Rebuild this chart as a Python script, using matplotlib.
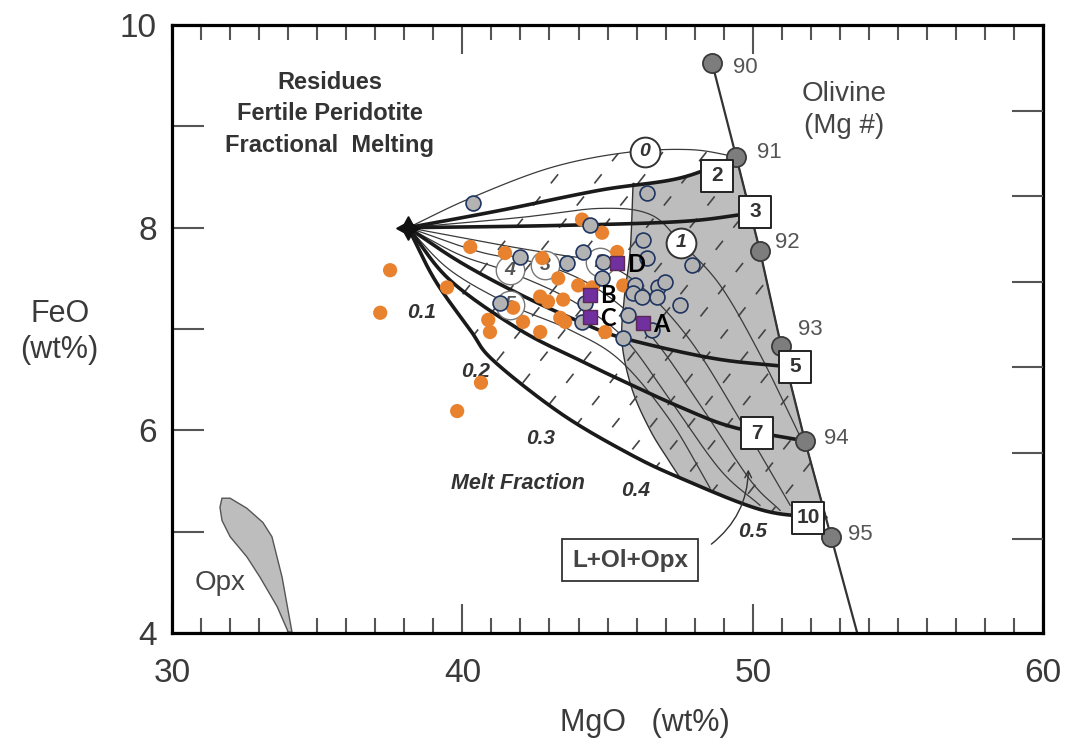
import numpy as np
import matplotlib
matplotlib.use('Agg')
import matplotlib.pyplot as plt
from matplotlib.patches import Polygon
from matplotlib.ticker import MultipleLocator, FuncFormatter

plt.rcParams['font.family'] = ['Liberation Sans', 'DejaVu Sans']

# ---------------- data (MgO, FeO in wt%) ----------------
origin_mgo, origin_feo = 38.13, 8.00

ol_mgo = [48.60, 49.43, 50.25, 50.98, 51.80, 52.70]
ol_feo = [9.625, 8.70, 7.77, 6.83, 5.895, 4.947]
ol_labels = ['90', '91', '92', '93', '94', '95']

# final melting pressure curves (thick, boxed labels)
pf2_mgo = [38.13, 41.30, 44.74, 47.50, 49.43]
pf2_feo = [8.00, 8.17, 8.37, 8.49, 8.70]
pf3_mgo = [38.13, 43.02, 47.50, 49.91]
pf3_feo = [8.00, 8.02, 8.06, 8.14]
pf5_mgo = [38.13, 39.92, 41.99, 44.05, 45.54, 48.64, 51.15]
pf5_feo = [8.00, 7.66, 7.34, 7.07, 6.91, 6.71, 6.63]
pf7_mgo = [38.13, 39.58, 41.99, 44.05, 45.43, 47.50, 49.33, 51.80]
pf7_feo = [8.00, 7.48, 6.99, 6.69, 6.50, 6.23, 6.03, 5.895]
pf10_mgo = [38.13, 39.06, 40.27, 41.06, 43.37, 45.67, 47.50, 50.36, 52.52]
pf10_feo = [8.00, 7.48, 6.99, 6.69, 6.17, 5.78, 5.53, 5.21, 5.14]

# initial melting pressure curves (thin, circled labels)
pi0_mgo = [38.13, 40.27, 43.02, 45.60, 47.84, 49.43]
pi0_feo = [8.00, 8.29, 8.59, 8.74, 8.77, 8.70]
pi1_mgo = [38.13, 41.99, 44.74, 46.47, 47.53, 48.88, 50.25, 51.63]
pi1_feo = [8.00, 8.10, 8.19, 8.13, 7.85, 7.43, 6.75, 5.94]
pi2_mgo = [38.13, 41.30, 43.37, 44.74, 46.12, 47.84, 49.57, 51.29]
pi2_feo = [8.00, 7.83, 7.73, 7.66, 7.43, 6.89, 6.10, 5.26]
pi3_mgo = [38.13, 40.61, 42.85, 44.74, 46.47, 48.19, 49.91, 50.94]
pi3_feo = [8.00, 7.76, 7.63, 7.38, 6.94, 6.25, 5.51, 5.21]
pi4_mgo = [38.13, 39.92, 41.64, 43.71, 45.54, 47.15, 48.88, 50.25]
pi4_feo = [8.00, 7.73, 7.56, 7.29, 6.92, 6.30, 5.61, 5.26]
pi5_mgo = [38.13, 39.58, 41.64, 43.71, 45.43, 47.15, 48.53]
pi5_feo = [8.00, 7.58, 7.24, 6.99, 6.69, 6.10, 5.43]

# left edge of L+Ol+Opx field
field_mgo = [45.88, 45.78, 45.57, 45.50, 45.85, 46.47, 47.09, 47.50]
field_feo = [8.44, 7.78, 7.29, 6.86, 6.40, 6.00, 5.71, 5.53]

# melt fraction contours: MgO where each crosses FeO = 5, common slope
melt_x5 = [33.5, 35.0, 36.5, 38.0, 39.5, 41.0, 42.3, 43.6, 44.9, 46.2, 47.5, 48.8, 50.1]
melt_slope = 0.36
melt_labels = ['0.1', '0.2', '0.3', '0.4', '0.5']
melt_lab_mgo = [38.61, 40.44, 42.68, 45.98, 49.98]
melt_lab_feo = [7.16, 6.58, 5.92, 5.41, 5.00]

box_labels = ['2', '3', '5', '7', '10']
box_mgo = [48.77, 50.08, 51.46, 50.15, 51.91]
box_feo = [8.51, 8.155, 6.625, 5.97, 5.135]

circ_labels = ['0', '1', '2', '3', '4', '5']
circ_mgo = [46.29, 47.53, 44.74, 42.85, 41.64, 41.64]
circ_feo = [8.747, 7.85, 7.66, 7.63, 7.58, 7.24]

opx_mgo = [31.72, 32.00, 32.58, 33.13, 33.44, 33.79, 34.13, 34.00, 33.62, 33.03, 32.58, 32.00, 31.72, 31.65]
opx_feo = [5.33, 5.33, 5.23, 5.09, 4.95, 4.55, 4.01, 4.01, 4.26, 4.55, 4.75, 4.95, 5.11, 5.24]

orange_mgo = [37.51, 37.17, 39.47, 40.27, 41.47, 42.75, 44.12, 44.81, 45.33, 43.30, 43.99, 44.47,
              45.54, 42.68, 42.95, 43.47, 41.75, 40.89, 40.95, 42.09, 42.68, 43.37, 43.54, 44.92,
              40.64, 39.82]
orange_feo = [7.58, 7.16, 7.41, 7.81, 7.75, 7.70, 8.08, 7.95, 7.76, 7.50, 7.43, 7.41,
              7.43, 7.32, 7.27, 7.29, 7.21, 7.09, 6.97, 7.07, 6.97, 7.11, 7.07, 6.97,
              6.47, 6.19]

blue_mgo = [40.37, 44.40, 41.99, 43.61, 44.16, 44.85, 44.81, 41.30, 44.23, 44.12, 45.54, 46.36,
            46.22, 46.36, 47.91, 45.95, 45.88, 46.19, 46.74, 46.98, 46.71, 47.50, 45.71, 46.53]
blue_feo = [8.24, 8.03, 7.71, 7.65, 7.76, 7.66, 7.50, 7.26, 7.26, 7.07, 6.91, 8.34,
            7.88, 7.70, 7.63, 7.43, 7.36, 7.32, 7.41, 7.46, 7.32, 7.24, 7.14, 6.99]

sample_labels = ['A', 'B', 'C', 'D']
sample_mgo = [46.22, 44.40, 44.40, 45.33]
sample_feo = [7.06, 7.34, 7.12, 7.65]

right_ticks = [9.15, 8.31, 7.46, 6.62, 5.78, 4.93]
x_ticklabels = ['30', '40', '50', '60']


def smooth(xs, ys, n=24):
    pts = np.column_stack([xs, ys]).astype(float)
    if len(pts) < 3:
        return pts
    P = np.vstack([2 * pts[0] - pts[1], pts, 2 * pts[-1] - pts[-2]])
    out = []
    t = np.linspace(0, 1, n, endpoint=False)[:, None]
    for i in range(1, len(P) - 2):
        p0, p1, p2, p3 = P[i - 1], P[i], P[i + 1], P[i + 2]
        seg = 0.5 * ((2 * p1) + (-p0 + p2) * t + (2 * p0 - 5 * p1 + 4 * p2 - p3) * t ** 2
                     + (-p0 + 3 * p1 - 3 * p2 + p3) * t ** 3)
        out.append(seg)
    out.append(pts[-1][None, :])
    return np.vstack(out)


fig = plt.figure(figsize=(10.66, 7.46), dpi=100)
ax = fig.add_axes([0.1614, 0.1515, 0.8171, 0.815])
ax.set_xlim(30, 60)
ax.set_ylim(4, 10)

TXT = '#3a3a3a'

# curves
c0 = smooth(pi0_mgo, pi0_feo)
c2 = smooth(pf2_mgo, pf2_feo)
c10 = smooth(pf10_mgo, pf10_feo)
cf = smooth(field_mgo, field_feo)

# grey L+Ol+Opx field
ol_arr = np.column_stack([ol_mgo, ol_feo])
seg10 = c10[c10[:, 0] > field_mgo[-1]]
seg2 = c2[c2[:, 0] > field_mgo[0]][::-1]
gray_poly = np.vstack([cf, seg10, ol_arr[4:0:-1], seg2])
ax.add_patch(Polygon(gray_poly, closed=True, facecolor='#bdbdbd', edgecolor='#333333',
                     linewidth=1.0, zorder=1))

# fan region for melt-fraction contours
fan_poly = np.vstack([c0, ol_arr[2:5], c10[::-1]])
fan = Polygon(fan_poly, closed=True, facecolor='none', edgecolor='none')
fan.set_transform(ax.transData)
for x5 in melt_x5:
    xs = np.array([x5 - 2.0, x5 + 6.0 / melt_slope])
    ys = 5 + (xs - x5) * melt_slope
    ln, = ax.plot(xs, ys, color='#444444', lw=1.2, dashes=(7, 10), zorder=2)
    ln.set_clip_path(fan)

# thin curves
for mx, fy in [(pi0_mgo, pi0_feo), (pi1_mgo, pi1_feo), (pi2_mgo, pi2_feo), (pi3_mgo, pi3_feo),
               (pi4_mgo, pi4_feo), (pi5_mgo, pi5_feo)]:
    s = smooth(mx, fy)
    ax.plot(s[:, 0], s[:, 1], color='#3a3a3a', lw=0.9, zorder=3)

# thick curves
for mx, fy in [(pf2_mgo, pf2_feo), (pf3_mgo, pf3_feo), (pf5_mgo, pf5_feo), (pf7_mgo, pf7_feo),
               (pf10_mgo, pf10_feo)]:
    s = smooth(mx, fy)
    ax.plot(s[:, 0], s[:, 1], color='#1a1a1a', lw=2.6, zorder=4, solid_capstyle='round')

# olivine line and points
ext_x = ol_mgo[-1] + (ol_mgo[-1] - ol_mgo[-2]) * 1.2
ext_y = ol_feo[-1] + (ol_feo[-1] - ol_feo[-2]) * 1.2
ax.plot(list(ol_mgo) + [ext_x], list(ol_feo) + [ext_y], color='#333333', lw=1.6, zorder=4)
ax.scatter(ol_mgo, ol_feo, s=190, facecolor='#7d7d7d', edgecolor='#3a3a3a', linewidths=1.3, zorder=6)
ol_offsets = [(15, -3), (15, 3), (11, 6), (12, 12), (14, 2), (12, 2)]
for lbl, x, y, off in zip(ol_labels, ol_mgo, ol_feo, ol_offsets):
    ax.annotate(lbl, (x, y), xytext=off, textcoords='offset points', va='center', ha='left',
                fontsize=16, color='#555555', zorder=7)

# origin (fertile peridotite)
ax.plot([origin_mgo], [origin_feo], marker=(4, 1, 0), ms=17, color='#111111', zorder=6)

# boxed labels
ax.scatter(box_mgo, box_feo, marker='s', s=560, facecolor='white', edgecolor='#222222',
           linewidths=1.4, zorder=6)
for lbl, x, y in zip(box_labels, box_mgo, box_feo):
    ax.text(x, y, lbl, ha='center', va='center', fontsize=15, fontweight='bold', color='#333333', zorder=7)

# circled labels
ax.scatter(circ_mgo[:2], circ_feo[:2], s=460, facecolor='white', edgecolor='#333333',
           linewidths=1.4, zorder=5)
ax.scatter(circ_mgo[2:], circ_feo[2:], s=420, facecolor='white', edgecolor='#777777',
           linewidths=1.0, zorder=5)
for i, (lbl, x, y) in enumerate(zip(circ_labels, circ_mgo, circ_feo)):
    ax.text(x, y, lbl, ha='center', va='center', fontsize=14, fontweight='bold', style='italic',
            color='#333333' if i < 2 else '#555555', zorder=5.5)

# melt fraction labels
for lbl, x, y in zip(melt_labels, melt_lab_mgo, melt_lab_feo):
    ax.text(x, y, lbl, ha='center', va='center', fontsize=15, fontweight='bold', style='italic',
            color='#333333', zorder=7)
ax.text(41.92, 5.48, 'Melt Fraction', ha='center', va='center', fontsize=15.5, fontweight='bold',
        style='italic', color='#333333', zorder=7)

# Opx field
ax.add_patch(Polygon(np.column_stack([opx_mgo, opx_feo]), closed=True, facecolor='#bdbdbd',
                     edgecolor='#555555', linewidth=1.0, zorder=2))
ax.text(31.65, 4.49, 'Opx', ha='center', va='center', fontsize=20, color='#444444')

# annotations
for txt, yy in [('Residues', 9.43), ('Fertile Peridotite', 9.13), ('Fractional  Melting', 8.81)]:
    ax.text(35.44, yy, txt, ha='center', va='center', fontsize=17, fontweight='bold', color='#333333')
ax.text(53.15, 9.16, 'Olivine\n(Mg #)', ha='center', va='center', fontsize=20, color='#444444',
        linespacing=1.3)
ax.text(45.78, 4.72, 'L+Ol+Opx', ha='center', va='center', fontsize=17.5, fontweight='bold', color='#444444',
        zorder=7, bbox=dict(boxstyle='square,pad=0.4', facecolor='white', edgecolor='#333333', lw=1.3))
ax.annotate('', xy=(49.85, 5.64), xytext=(48.5, 4.86),
            arrowprops=dict(arrowstyle='->', color='#333333', lw=1.0,
                            connectionstyle='arc3,rad=0.25', mutation_scale=12), zorder=7)

# samples
ax.scatter(orange_mgo, orange_feo, s=105, color='#E8822E', edgecolor='none', zorder=8)
ax.scatter(blue_mgo, blue_feo, s=115, facecolor='#b3b3b3', edgecolor='#1f3560', linewidths=1.2, zorder=8)
ax.scatter(sample_mgo, sample_feo, marker='s', s=95, facecolor='#7030A0', edgecolor='#5a2a50',
           linewidths=1.0, zorder=9)
for lbl, x, y in zip(sample_labels, sample_mgo, sample_feo):
    ax.annotate(lbl, (x, y), xytext=(7, -1), textcoords='offset points', ha='left', va='center',
                fontsize=17, fontweight='bold', color='black', family=['Lato', 'DejaVu Sans'], zorder=10)

# axes styling
for sp in ax.spines.values():
    sp.set_linewidth(2.3)
    sp.set_color('black')
    sp.set_zorder(11)

ax.xaxis.set_major_locator(MultipleLocator(10))
ax.xaxis.set_minor_locator(MultipleLocator(1))
ax.set_xticks([30, 40, 50, 60])
ax.set_xticklabels(x_ticklabels)
ax.yaxis.set_major_locator(MultipleLocator(1))
ax.yaxis.set_major_formatter(FuncFormatter(lambda v, p: f'{v:.0f}' if int(round(v)) % 2 == 0 else ''))
ax.tick_params(axis='x', which='major', direction='in', length=21, width=1.5, color='#555555',
               top=True, bottom=True, labelsize=24, labelcolor=TXT, pad=18)
ax.tick_params(axis='x', which='minor', direction='in', length=11, width=1.5, color='#555555',
               top=True, bottom=True)
ax.tick_params(axis='y', which='major', direction='in', length=23, width=1.5, color='#555555',
               left=True, right=False, labelsize=24, labelcolor=TXT, pad=11)

ax2 = ax.twinx()
ax2.set_ylim(4, 10)
ax2.set_yticks(right_ticks)
ax2.tick_params(axis='y', direction='in', length=22, width=1.5, color='#555555', labelright=False)
for sp in ax2.spines.values():
    sp.set_visible(False)

ax.set_xlabel('MgO   (wt%)', fontsize=22, color=TXT, va='center')
ax.xaxis.set_label_coords(0.543, -0.148)
ax.set_ylabel('FeO\n(wt%)', fontsize=22, color=TXT, rotation=0, ha='center', va='center',
              linespacing=1.25)
ax.yaxis.set_label_coords(-0.129, 0.495)

fig.savefig('out.png', dpi=100, facecolor='white')
